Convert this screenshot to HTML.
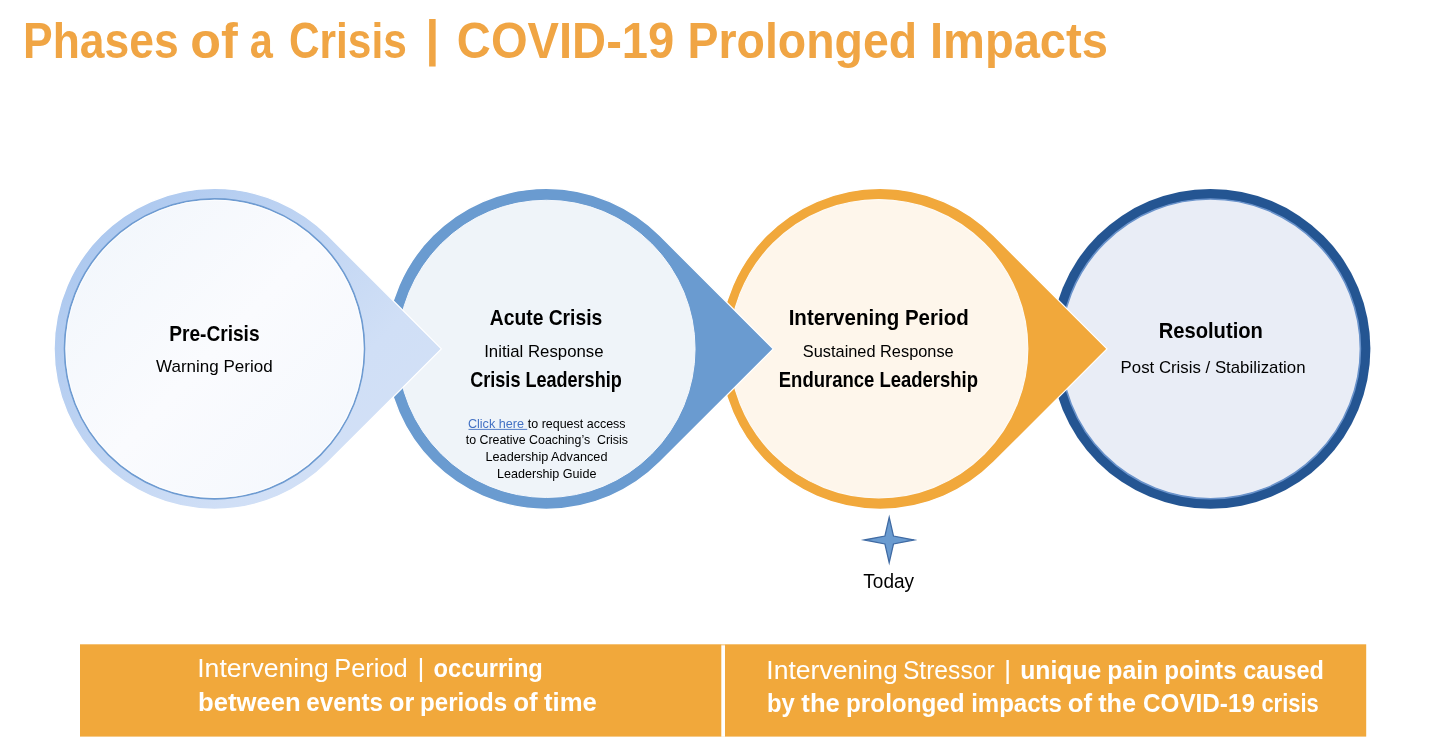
<!DOCTYPE html>
<html lang="en"><head><meta charset="utf-8"><title>Phases of a Crisis | COVID-19 Prolonged Impacts</title>
<style>
html,body{margin:0;padding:0;background:#fff;width:1440px;height:750px;overflow:hidden}
svg{display:block;font-family:"Liberation Sans",sans-serif}
</style></head><body>
<svg width="1440" height="750" viewBox="0 0 1440 750">
<defs>
<linearGradient id="g1" gradientUnits="userSpaceOnUse" x1="90" y1="225" x2="360" y2="480">
<stop offset="0" stop-color="#ACC8EF"/><stop offset="0.78" stop-color="#D0DFF6"/><stop offset="1" stop-color="#D2E0F6"/></linearGradient>
<linearGradient id="g1i" gradientUnits="userSpaceOnUse" x1="100" y1="240" x2="330" y2="460">
<stop offset="0" stop-color="#F3F7FC"/><stop offset="0.5" stop-color="#FAFBFE"/><stop offset="1" stop-color="#F5F8FD"/></linearGradient>
</defs>
<rect width="1440" height="750" fill="#fff"/>
<circle cx="1210.5" cy="348.85" r="159.9" fill="#245592"/>
<circle cx="1210.5" cy="348.85" r="149.9" fill="#E9EDF6" stroke="#6A93CB" stroke-width="1.6"/>
<path d="M1107.01,348.85 L993.56,235.39 A160.45,160.45 0 1 0 993.56,462.31 Z" fill="#F1A83B" stroke="#fff" stroke-width="1.3" stroke-linejoin="miter"/>
<circle cx="878.7" cy="348.7" r="149.1" fill="#FEF6EB" stroke="#FEFAF4" stroke-width="1.2"/>
<path d="M773.21,348.85 L659.76,235.39 A160.45,160.45 0 1 0 659.76,462.31 Z" fill="#6A9BD0" stroke="#fff" stroke-width="1.3"/>
<circle cx="546.45" cy="348.85" r="148.6" fill="#EFF4F9" stroke="#F5F8FC" stroke-width="1.0"/>
<path d="M441.41,348.85 L327.96,235.39 A160.45,160.45 0 1 0 327.96,462.31 Z" fill="url(#g1)" stroke="#fff" stroke-width="1.3"/>
<circle cx="214.5" cy="348.85" r="149.95" fill="url(#g1i)" stroke="#6E9BD1" stroke-width="1.7"/>
<circle cx="214.5" cy="348.85" r="148.6" fill="none" stroke="#fff" stroke-opacity="0.7" stroke-width="1.1"/>
<path d="M864.3000000000001,540.0 L884.9000000000001,536.05 L889.2,517.3 L893.5,536.05 L914.1,540.0 L893.5,543.95 L889.2,562.7 L884.9000000000001,543.95 Z" fill="#6A9BD0" stroke="#3F6AA3" stroke-width="1.3" stroke-miterlimit="10"/>
<rect x="80" y="644.3" width="1286.2" height="92.3" fill="#F1A83B"/>
<rect x="721.3" y="645.3" width="3.7" height="91.5" fill="#fff"/>
<rect x="721.3" y="644.3" width="3.7" height="1" fill="#fff" fill-opacity="0.35"/>
<text y="57.9" font-size="50" font-weight="700" fill="#F0A544"><tspan x="23.00" textLength="155.68" lengthAdjust="spacingAndGlyphs" y="57.9">Phases</tspan> <tspan x="190.24" textLength="47.46" lengthAdjust="spacingAndGlyphs" y="57.9">of</tspan> <tspan x="249.75" textLength="23.09" lengthAdjust="spacingAndGlyphs" y="57.9">a</tspan> <tspan x="288.90" textLength="117.87" lengthAdjust="spacingAndGlyphs" y="57.9">Crisis</tspan> <tspan x="425.19" textLength="14.22" lengthAdjust="spacingAndGlyphs" y="55.40">|</tspan> <tspan x="456.86" textLength="217.40" lengthAdjust="spacingAndGlyphs" y="57.9">COVID-19</tspan> <tspan x="687.46" textLength="229.64" lengthAdjust="spacingAndGlyphs" y="57.9">Prolonged</tspan> <tspan x="929.92" textLength="178.05" lengthAdjust="spacingAndGlyphs" y="57.9">Impacts</tspan></text>
<text y="341.0" font-size="21.3" font-weight="700" fill="#000"><tspan x="169.27" textLength="90.27" lengthAdjust="spacingAndGlyphs">Pre-Crisis</tspan></text>
<text y="372.0" font-size="16.4" font-weight="400" fill="#000"><tspan x="156.07" textLength="116.58" lengthAdjust="spacingAndGlyphs">Warning Period</tspan></text>
<text y="324.8" font-size="21.3" font-weight="700" fill="#000"><tspan x="489.85" textLength="112.37" lengthAdjust="spacingAndGlyphs">Acute Crisis</tspan></text>
<text y="356.8" font-size="16.4" font-weight="400" fill="#000"><tspan x="484.16" textLength="119.40" lengthAdjust="spacingAndGlyphs">Initial Response</tspan></text>
<text y="387.3" font-size="21.3" font-weight="700" fill="#000"><tspan x="470.26" textLength="151.47" lengthAdjust="spacingAndGlyphs">Crisis Leadership</tspan></text>
<text y="427.8" font-size="12.9" font-weight="400" fill="#000"><a href="#"><tspan x="467.89" textLength="56.16" lengthAdjust="spacingAndGlyphs" fill="#4472C4">Click here</tspan></a> <tspan x="527.76" textLength="97.84" lengthAdjust="spacingAndGlyphs">to request access</tspan></text>
<text y="444.1" font-size="12.9" font-weight="400" fill="#000"><tspan x="465.76" textLength="162.19" lengthAdjust="spacingAndGlyphs">to Creative Coaching’s&#160; Crisis</tspan></text>
<text y="460.9" font-size="12.9" font-weight="400" fill="#000"><tspan x="485.52" textLength="121.94" lengthAdjust="spacingAndGlyphs">Leadership Advanced</tspan></text>
<text y="477.6" font-size="12.9" font-weight="400" fill="#000"><tspan x="497.02" textLength="99.38" lengthAdjust="spacingAndGlyphs">Leadership Guide</tspan></text>
<text y="324.8" font-size="21.3" font-weight="700" fill="#000"><tspan x="788.68" textLength="180.03" lengthAdjust="spacingAndGlyphs">Intervening Period</tspan></text>
<text y="356.8" font-size="16.4" font-weight="400" fill="#000"><tspan x="802.85" textLength="150.81" lengthAdjust="spacingAndGlyphs">Sustained Response</tspan></text>
<text y="387.2" font-size="21.3" font-weight="700" fill="#000"><tspan x="778.81" textLength="199.24" lengthAdjust="spacingAndGlyphs">Endurance Leadership</tspan></text>
<text y="338.0" font-size="21.3" font-weight="700" fill="#000"><tspan x="1158.70" textLength="104.22" lengthAdjust="spacingAndGlyphs">Resolution</tspan></text>
<text y="373.4" font-size="16.4" font-weight="400" fill="#000"><tspan x="1120.59" textLength="184.96" lengthAdjust="spacingAndGlyphs">Post Crisis / Stabilization</tspan></text>
<text y="587.8" font-size="19.3" font-weight="400" fill="#000"><tspan x="863.33" textLength="50.75" lengthAdjust="spacingAndGlyphs">Today</tspan></text>
<text y="677.2" font-size="25.3" font-weight="400" fill="#fff"><tspan x="197.20" textLength="131.66" lengthAdjust="spacingAndGlyphs">Intervening</tspan> <tspan x="334.16" textLength="73.57" lengthAdjust="spacingAndGlyphs">Period</tspan> <tspan x="417.44" textLength="6.91" lengthAdjust="spacingAndGlyphs">|</tspan> <tspan x="433.56" textLength="109.30" lengthAdjust="spacingAndGlyphs" font-weight="700">occurring</tspan></text>
<text y="710.9" font-size="25.3" font-weight="700" fill="#fff"><tspan x="198.05" textLength="102.66" lengthAdjust="spacingAndGlyphs">between</tspan> <tspan x="306.34" textLength="76.64" lengthAdjust="spacingAndGlyphs">events</tspan> <tspan x="389.10" textLength="25.23" lengthAdjust="spacingAndGlyphs">or</tspan> <tspan x="420.05" textLength="87.10" lengthAdjust="spacingAndGlyphs">periods</tspan> <tspan x="513.18" textLength="24.44" lengthAdjust="spacingAndGlyphs">of</tspan> <tspan x="543.95" textLength="52.86" lengthAdjust="spacingAndGlyphs">time</tspan></text>
<text y="678.6" font-size="25.3" font-weight="400" fill="#fff"><tspan x="766.31" textLength="131.45" lengthAdjust="spacingAndGlyphs">Intervening</tspan> <tspan x="902.88" textLength="91.74" lengthAdjust="spacingAndGlyphs">Stressor</tspan> <tspan x="1004.02" textLength="7.24" lengthAdjust="spacingAndGlyphs">|</tspan> <tspan x="1020.21" textLength="81.09" lengthAdjust="spacingAndGlyphs" font-weight="700">unique</tspan> <tspan x="1107.31" textLength="50.98" lengthAdjust="spacingAndGlyphs" font-weight="700">pain</tspan> <tspan x="1164.25" textLength="72.32" lengthAdjust="spacingAndGlyphs" font-weight="700">points</tspan> <tspan x="1243.17" textLength="80.79" lengthAdjust="spacingAndGlyphs" font-weight="700">caused</tspan></text>
<text y="711.8" font-size="25.3" font-weight="700" fill="#fff"><tspan x="767.07" textLength="27.78" lengthAdjust="spacingAndGlyphs">by</tspan> <tspan x="801.35" textLength="38.49" lengthAdjust="spacingAndGlyphs">the</tspan> <tspan x="846.04" textLength="118.65" lengthAdjust="spacingAndGlyphs">prolonged</tspan> <tspan x="971.14" textLength="90.71" lengthAdjust="spacingAndGlyphs">impacts</tspan> <tspan x="1067.88" textLength="24.33" lengthAdjust="spacingAndGlyphs">of</tspan> <tspan x="1098.15" textLength="37.98" lengthAdjust="spacingAndGlyphs">the</tspan> <tspan x="1143.04" textLength="111.86" lengthAdjust="spacingAndGlyphs">COVID-19</tspan> <tspan x="1261.43" textLength="57.33" lengthAdjust="spacingAndGlyphs">crisis</tspan></text>
<rect x="468.5" y="428.9" width="58.7" height="0.9" fill="#4472C4"/>
</svg>
</body></html>
